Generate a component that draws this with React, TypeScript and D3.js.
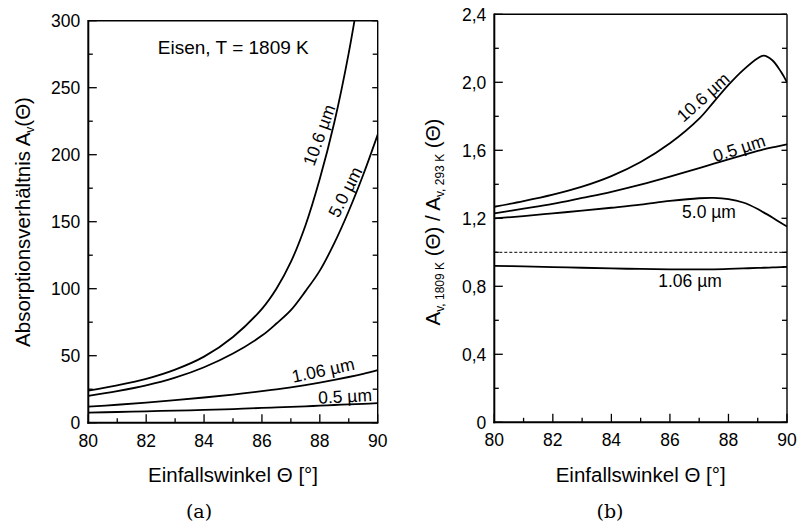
import React from "react";
import * as d3 from "d3";

// ---------- Data ----------
const thetaA = [80, 81, 82, 83, 84, 85, 86, 86.5, 87, 87.5, 88, 88.5, 89, 89.5, 90];
const absL10_6 = [24, 27.9, 32.7, 39.6, 49.3, 64, 85, 100, 120, 147, 182, 224, 276, 340, 414];
const absL5_0 = [20, 23.5, 27.8, 33.6, 41.4, 51.6, 65, 74, 84, 98, 113.5, 134, 158, 185, 215];
const absL1_06 = [12, 13.4, 15, 16.8, 18.8, 21, 23.5, 24.9, 26.4, 28.1, 29.9, 31.9, 34.1, 36.5, 39.2];
const absL0_5 = [7.5, 8, 8.5, 9, 9.5, 10.2, 11, 11.4, 11.8, 12.2, 12.7, 13.2, 13.7, 14.1, 14.6];

const thetaB = [80, 81, 82, 83, 84, 85, 86, 87, 87.5, 88, 88.5, 89, 89.2, 89.5, 89.8, 90];
const ratioL10_6 = [1.268, 1.301, 1.339, 1.386, 1.448, 1.531, 1.641, 1.786, 1.885, 1.985, 2.072, 2.142, 2.157, 2.13, 2.06, 2.0];
const ratioL0_5 = [1.229, 1.2565, 1.285, 1.32, 1.356, 1.398, 1.445, 1.495, 1.521, 1.547, 1.572, 1.596, 1.605, 1.617, 1.628, 1.635];
const ratioL5_0 = [1.2, 1.213, 1.229, 1.245, 1.262, 1.28, 1.302, 1.318, 1.32, 1.313, 1.293, 1.255, 1.235, 1.205, 1.172, 1.152];
const ratioL1_06 = [0.92, 0.917, 0.913, 0.909, 0.905, 0.902, 0.9, 0.9, 0.9, 0.902, 0.905, 0.908, 0.909, 0.911, 0.913, 0.914];
const ratioRef = 1.0;

const xTicksMajor = [80, 82, 84, 86, 88, 90];
const xTicksMinor = [81, 83, 85, 87, 89];
const yTicksA = [0, 50, 100, 150, 200, 250, 300];
const yTicksAMinor = [25, 75, 125, 175, 225, 275];
const yTicksB = [0, 0.4, 0.8, 1.2, 1.6, 2.0, 2.4];
const yTicksBMinor = [0.2, 0.6, 1.0, 1.4, 1.8, 2.2];
const yLabelsB = ["0", "0,4", "0,8", "1,2", "1,6", "2,0", "2,4"];

const SANS = "'Liberation Sans', Arial, Helvetica, sans-serif";
const SERIF = "'DejaVu Serif', 'Liberation Serif', serif";

type PanelProps = {
  id: string;
  x0: number; x1: number; yTop: number; yBot: number;
  yDomain: [number, number];
  yTicks: number[]; yMinor: number[]; yLabels: string[];
  children: (x: d3.ScaleLinear<number, number>, y: d3.ScaleLinear<number, number>) => React.ReactNode;
};

function Panel({ id, x0, x1, yTop, yBot, yDomain, yTicks, yMinor, yLabels, children }: PanelProps) {
  const x = d3.scaleLinear().domain([80, 90]).range([x0, x1]);
  const y = d3.scaleLinear().domain(yDomain).range([yBot, yTop]);
  return (
    <g>
      <defs>
        <clipPath id={id}>
          <rect x={x0} y={yTop} width={x1 - x0} height={yBot - yTop} />
        </clipPath>
      </defs>
      <g clipPath={`url(#${id})`}>{children(x, y)}</g>
      {/* frame */}
      <line x1={x0} x2={x1} y1={yTop} y2={yTop} stroke="#000" strokeWidth={1.4} />
      <line x1={x1} x2={x1} y1={yTop} y2={yBot} stroke="#000" strokeWidth={1.4} />
      <line x1={x0} x2={x0} y1={yTop - 0.7} y2={yBot + 1} stroke="#000" strokeWidth={2} />
      <line x1={x0 - 1} x2={x1 + 0.7} y1={yBot} y2={yBot} stroke="#000" strokeWidth={2} />
      {/* x ticks */}
      {xTicksMajor.map((t) => (
        <g key={"xm" + t}>
          <line x1={x(t)} x2={x(t)} y1={yBot} y2={yBot - 8.5} stroke="#000" strokeWidth={1.3} />
          <text x={x(t)} y={yBot + 24} textAnchor="middle" fontFamily={SANS} fontSize={17.5}>{t}</text>
        </g>
      ))}
      {xTicksMinor.map((t) => (
        <line key={"xn" + t} x1={x(t)} x2={x(t)} y1={yBot} y2={yBot - 4.5} stroke="#000" strokeWidth={1.3} />
      ))}
      {/* y ticks */}
      {yTicks.map((t, i) => (
        <g key={"ym" + t}>
          <line x1={x0} x2={x0 + 8.5} y1={y(t)} y2={y(t)} stroke="#000" strokeWidth={1.3} />
          <line x1={x1} x2={x1 - 5.5} y1={y(t)} y2={y(t)} stroke="#000" strokeWidth={1.3} />
          <text x={x0 - 8} y={y(t)} dy="0.36em" textAnchor="end" fontFamily={SANS} fontSize={17.5}>{yLabels[i]}</text>
        </g>
      ))}
      {yMinor.map((t) => (
        <g key={"yn" + t}>
          <line x1={x0} x2={x0 + 4.5} y1={y(t)} y2={y(t)} stroke="#000" strokeWidth={1.3} />
          <line x1={x1} x2={x1 - 5} y1={y(t)} y2={y(t)} stroke="#000" strokeWidth={1.3} />
        </g>
      ))}
      <text x={(x0 + x1) / 2 + 0} y={482} textAnchor="middle" fontFamily={SANS} fontSize={20.5}>
        Einfallswinkel Θ [°]
      </text>
    </g>
  );
}

function curvePath(xs: number[], ys: number[], x: any, y: any) {
  const line = d3
    .line<number>()
    .x((_, i) => x(xs[i]))
    .y((v) => y(v))
    .curve(d3.curveCatmullRom.alpha(0.5));
  return line(ys) || "";
}

function Label({ x, y, rot, text }: { x: number; y: number; rot: number; text: string }) {
  return (
    <text
      transform={`translate(${x},${y}) rotate(${rot})`}
      textAnchor="middle"
      dy="0.36em"
      fontFamily={SANS}
      fontSize={17.5}
    >
      {text}
    </text>
  );
}

export default function App() {
  const seriesA = [absL10_6, absL5_0, absL1_06, absL0_5];
  const seriesB = [ratioL10_6, ratioL0_5, ratioL5_0, ratioL1_06];
  return (
    <svg width={798} height={527} style={{ position: "absolute", left: 0, top: 0, background: "#fff" }}>
      <rect width={798} height={527} fill="#fff" />
      <Panel
        id="clipA"
        x0={88.3}
        x1={377.7}
        yTop={20.7}
        yBot={422.7}
        yDomain={[0, 300]}
        yTicks={yTicksA}
        yMinor={yTicksAMinor}
        yLabels={yTicksA.map(String)}
      >
        {(x, y) =>
          seriesA.map((s, i) => (
            <path key={i} d={curvePath(thetaA, s, x, y)} fill="none" stroke="#000" strokeWidth={1.8} />
          ))
        }
      </Panel>
      <Panel
        id="clipB"
        x0={494.3}
        x1={787}
        yTop={14.3}
        yBot={422.3}
        yDomain={[0, 2.4]}
        yTicks={yTicksB}
        yMinor={yTicksBMinor}
        yLabels={yLabelsB}
      >
        {(x, y) => (
          <g>
            <line
              x1={x(80)}
              x2={x(90)}
              y1={y(ratioRef)}
              y2={y(ratioRef)}
              stroke="#000"
              strokeWidth={1}
              strokeDasharray="3,2"
            />
            {seriesB.map((s, i) => (
              <path key={i} d={curvePath(thetaB, s, x, y)} fill="none" stroke="#000" strokeWidth={1.8} />
            ))}
          </g>
        )}
      </Panel>

      {/* panel a annotations */}
      <text x={233.3} y={46.7} dy="0.36em" textAnchor="middle" fontFamily={SANS} fontSize={19}>
        Eisen, T = 1809 K
      </text>
      <Label x={319} y={135} rot={-70} text="10.6 µm" />
      <Label x={345} y={192} rot={-63} text="5.0 µm" />
      <Label x={323} y={370} rot={-12} text="1.06 µm" />
      <Label x={345} y={396} rot={-3} text="0.5 µm" />

      {/* panel b annotations */}
      <Label x={703} y={97} rot={-42} text="10.6 µm" />
      <Label x={739} y={148} rot={-18} text="0.5 µm" />
      <Label x={709} y={212} rot={0} text="5.0 µm" />
      <Label x={690} y={281} rot={0} text="1.06 µm" />

      {/* y axis titles */}
      <text transform="translate(30,222) rotate(-90)" textAnchor="middle" fontFamily={SANS} fontSize={20.5}>
        Absorptionsverhältnis A
        <tspan fontSize={12} dy={4}>v</tspan>
        <tspan dy={-4}>(Θ)</tspan>
      </text>
      <text transform="translate(440,222) rotate(-90)" textAnchor="middle" fontFamily={SANS} fontSize={20.5}>
        A
        <tspan fontSize={12} dy={4}>v, 1809 K</tspan>
        <tspan dy={-4}> (Θ) / A</tspan>
        <tspan fontSize={12} dy={4}>v, 293 K</tspan>
        <tspan dy={-4}> (Θ)</tspan>
      </text>

      {/* captions */}
      <text x={199} y={518} textAnchor="middle" fontFamily={SERIF} fontSize={19}>(a)</text>
      <text x={610} y={518} textAnchor="middle" fontFamily={SERIF} fontSize={19}>(b)</text>
    </svg>
  );
}
